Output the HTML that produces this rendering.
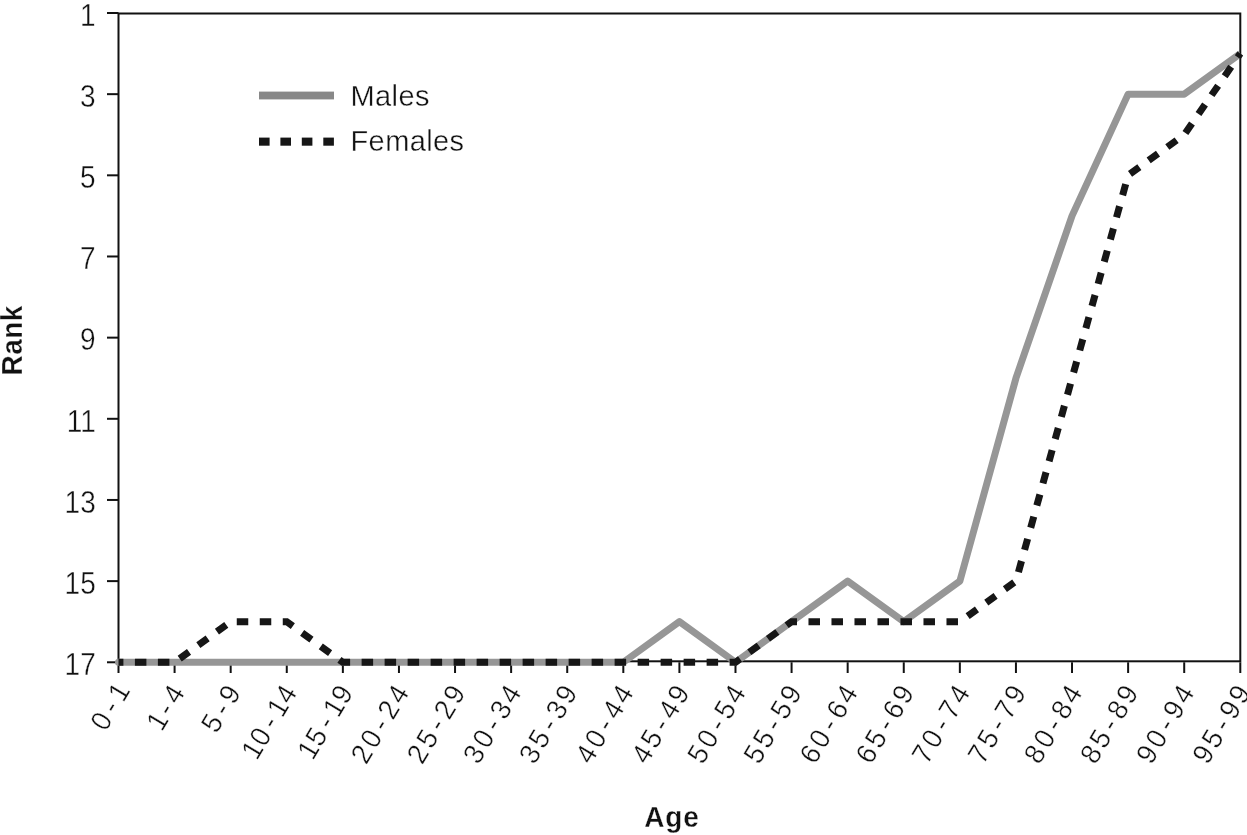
<!DOCTYPE html>
<html><head><meta charset="utf-8"><style>
html,body{margin:0;padding:0;background:#fff;}
svg{display:block;}
text{font-family:"Liberation Sans",sans-serif;fill:#111;stroke:#fff;stroke-width:0.35px;}
svg{will-change:transform;}
text.b{stroke-width:0.3px;}
</style></head><body>
<svg width="1247" height="835" viewBox="0 0 1247 835">
<rect width="1247" height="835" fill="#fff"/>

<rect x="118.50" y="13.5" width="1121.80" height="647.80" fill="none" stroke="#111" stroke-width="2"/>
<line x1="107" y1="13.00" x2="118.50" y2="13.00" stroke="#111" stroke-width="2"/>
<text transform="translate(95.7,25.70) scale(1,1.1)" font-size="28" text-anchor="end">1</text>
<line x1="107" y1="94.16" x2="118.50" y2="94.16" stroke="#111" stroke-width="2"/>
<text transform="translate(95.7,106.86) scale(1,1.1)" font-size="28" text-anchor="end">3</text>
<line x1="107" y1="175.32" x2="118.50" y2="175.32" stroke="#111" stroke-width="2"/>
<text transform="translate(95.7,188.02) scale(1,1.1)" font-size="28" text-anchor="end">5</text>
<line x1="107" y1="256.48" x2="118.50" y2="256.48" stroke="#111" stroke-width="2"/>
<text transform="translate(95.7,269.18) scale(1,1.1)" font-size="28" text-anchor="end">7</text>
<line x1="107" y1="337.64" x2="118.50" y2="337.64" stroke="#111" stroke-width="2"/>
<text transform="translate(95.7,350.34) scale(1,1.1)" font-size="28" text-anchor="end">9</text>
<line x1="107" y1="418.80" x2="118.50" y2="418.80" stroke="#111" stroke-width="2"/>
<text transform="translate(95.7,431.50) scale(1,1.1)" font-size="28" text-anchor="end">11</text>
<line x1="107" y1="499.96" x2="118.50" y2="499.96" stroke="#111" stroke-width="2"/>
<text transform="translate(95.7,512.66) scale(1,1.1)" font-size="28" text-anchor="end">13</text>
<line x1="107" y1="581.12" x2="118.50" y2="581.12" stroke="#111" stroke-width="2"/>
<text transform="translate(95.7,593.82) scale(1,1.1)" font-size="28" text-anchor="end">15</text>
<line x1="107" y1="662.28" x2="118.50" y2="662.28" stroke="#111" stroke-width="2"/>
<text transform="translate(95.7,674.98) scale(1,1.1)" font-size="28" text-anchor="end">17</text>
<line x1="118.50" y1="662.28" x2="118.50" y2="673" stroke="#111" stroke-width="2"/>
<text transform="translate(122.40,684.75) rotate(-59) scale(1,1.05)" font-size="27" text-anchor="end" dominant-baseline="central"><tspan letter-spacing="5">0</tspan><tspan letter-spacing="5">-</tspan><tspan letter-spacing="0.5">1</tspan></text>
<line x1="174.59" y1="662.28" x2="174.59" y2="673" stroke="#111" stroke-width="2"/>
<text transform="translate(178.49,684.75) rotate(-59) scale(1,1.05)" font-size="27" text-anchor="end" dominant-baseline="central"><tspan letter-spacing="2.5">1</tspan><tspan letter-spacing="5">-</tspan><tspan letter-spacing="3">4</tspan></text>
<line x1="230.68" y1="662.28" x2="230.68" y2="673" stroke="#111" stroke-width="2"/>
<text transform="translate(234.58,684.75) rotate(-59) scale(1,1.05)" font-size="27" text-anchor="end" dominant-baseline="central"><tspan letter-spacing="5">5</tspan><tspan letter-spacing="5">-</tspan><tspan letter-spacing="3">9</tspan></text>
<line x1="286.77" y1="662.28" x2="286.77" y2="673" stroke="#111" stroke-width="2"/>
<text transform="translate(290.67,684.75) rotate(-59) scale(1,1.05)" font-size="27" text-anchor="end" dominant-baseline="central"><tspan letter-spacing="0.5">1</tspan><tspan letter-spacing="5">0</tspan><tspan letter-spacing="5">-</tspan><tspan letter-spacing="0.5">1</tspan><tspan letter-spacing="3">4</tspan></text>
<line x1="342.86" y1="662.28" x2="342.86" y2="673" stroke="#111" stroke-width="2"/>
<text transform="translate(346.76,684.75) rotate(-59) scale(1,1.05)" font-size="27" text-anchor="end" dominant-baseline="central"><tspan letter-spacing="0.5">1</tspan><tspan letter-spacing="5">5</tspan><tspan letter-spacing="5">-</tspan><tspan letter-spacing="0.5">1</tspan><tspan letter-spacing="3">9</tspan></text>
<line x1="398.95" y1="662.28" x2="398.95" y2="673" stroke="#111" stroke-width="2"/>
<text transform="translate(402.85,684.75) rotate(-59) scale(1,1.05)" font-size="27" text-anchor="end" dominant-baseline="central"><tspan letter-spacing="3">2</tspan><tspan letter-spacing="5">0</tspan><tspan letter-spacing="5">-</tspan><tspan letter-spacing="3">2</tspan><tspan letter-spacing="3">4</tspan></text>
<line x1="455.04" y1="662.28" x2="455.04" y2="673" stroke="#111" stroke-width="2"/>
<text transform="translate(458.94,684.75) rotate(-59) scale(1,1.05)" font-size="27" text-anchor="end" dominant-baseline="central"><tspan letter-spacing="3">2</tspan><tspan letter-spacing="5">5</tspan><tspan letter-spacing="5">-</tspan><tspan letter-spacing="3">2</tspan><tspan letter-spacing="3">9</tspan></text>
<line x1="511.13" y1="662.28" x2="511.13" y2="673" stroke="#111" stroke-width="2"/>
<text transform="translate(515.03,684.75) rotate(-59) scale(1,1.05)" font-size="27" text-anchor="end" dominant-baseline="central"><tspan letter-spacing="3">3</tspan><tspan letter-spacing="5">0</tspan><tspan letter-spacing="5">-</tspan><tspan letter-spacing="3">3</tspan><tspan letter-spacing="3">4</tspan></text>
<line x1="567.22" y1="662.28" x2="567.22" y2="673" stroke="#111" stroke-width="2"/>
<text transform="translate(571.12,684.75) rotate(-59) scale(1,1.05)" font-size="27" text-anchor="end" dominant-baseline="central"><tspan letter-spacing="3">3</tspan><tspan letter-spacing="5">5</tspan><tspan letter-spacing="5">-</tspan><tspan letter-spacing="3">3</tspan><tspan letter-spacing="3">9</tspan></text>
<line x1="623.31" y1="662.28" x2="623.31" y2="673" stroke="#111" stroke-width="2"/>
<text transform="translate(627.21,684.75) rotate(-59) scale(1,1.05)" font-size="27" text-anchor="end" dominant-baseline="central"><tspan letter-spacing="3">4</tspan><tspan letter-spacing="5">0</tspan><tspan letter-spacing="5">-</tspan><tspan letter-spacing="3">4</tspan><tspan letter-spacing="3">4</tspan></text>
<line x1="679.40" y1="662.28" x2="679.40" y2="673" stroke="#111" stroke-width="2"/>
<text transform="translate(683.30,684.75) rotate(-59) scale(1,1.05)" font-size="27" text-anchor="end" dominant-baseline="central"><tspan letter-spacing="3">4</tspan><tspan letter-spacing="5">5</tspan><tspan letter-spacing="5">-</tspan><tspan letter-spacing="3">4</tspan><tspan letter-spacing="3">9</tspan></text>
<line x1="735.49" y1="662.28" x2="735.49" y2="673" stroke="#111" stroke-width="2"/>
<text transform="translate(739.39,684.75) rotate(-59) scale(1,1.05)" font-size="27" text-anchor="end" dominant-baseline="central"><tspan letter-spacing="3">5</tspan><tspan letter-spacing="5">0</tspan><tspan letter-spacing="5">-</tspan><tspan letter-spacing="3">5</tspan><tspan letter-spacing="3">4</tspan></text>
<line x1="791.58" y1="662.28" x2="791.58" y2="673" stroke="#111" stroke-width="2"/>
<text transform="translate(795.48,684.75) rotate(-59) scale(1,1.05)" font-size="27" text-anchor="end" dominant-baseline="central"><tspan letter-spacing="3">5</tspan><tspan letter-spacing="5">5</tspan><tspan letter-spacing="5">-</tspan><tspan letter-spacing="3">5</tspan><tspan letter-spacing="3">9</tspan></text>
<line x1="847.67" y1="662.28" x2="847.67" y2="673" stroke="#111" stroke-width="2"/>
<text transform="translate(851.57,684.75) rotate(-59) scale(1,1.05)" font-size="27" text-anchor="end" dominant-baseline="central"><tspan letter-spacing="3">6</tspan><tspan letter-spacing="5">0</tspan><tspan letter-spacing="5">-</tspan><tspan letter-spacing="3">6</tspan><tspan letter-spacing="3">4</tspan></text>
<line x1="903.76" y1="662.28" x2="903.76" y2="673" stroke="#111" stroke-width="2"/>
<text transform="translate(907.66,684.75) rotate(-59) scale(1,1.05)" font-size="27" text-anchor="end" dominant-baseline="central"><tspan letter-spacing="3">6</tspan><tspan letter-spacing="5">5</tspan><tspan letter-spacing="5">-</tspan><tspan letter-spacing="3">6</tspan><tspan letter-spacing="3">9</tspan></text>
<line x1="959.85" y1="662.28" x2="959.85" y2="673" stroke="#111" stroke-width="2"/>
<text transform="translate(963.75,684.75) rotate(-59) scale(1,1.05)" font-size="27" text-anchor="end" dominant-baseline="central"><tspan letter-spacing="3">7</tspan><tspan letter-spacing="5">0</tspan><tspan letter-spacing="5">-</tspan><tspan letter-spacing="3">7</tspan><tspan letter-spacing="3">4</tspan></text>
<line x1="1015.94" y1="662.28" x2="1015.94" y2="673" stroke="#111" stroke-width="2"/>
<text transform="translate(1019.84,684.75) rotate(-59) scale(1,1.05)" font-size="27" text-anchor="end" dominant-baseline="central"><tspan letter-spacing="3">7</tspan><tspan letter-spacing="5">5</tspan><tspan letter-spacing="5">-</tspan><tspan letter-spacing="3">7</tspan><tspan letter-spacing="3">9</tspan></text>
<line x1="1072.03" y1="662.28" x2="1072.03" y2="673" stroke="#111" stroke-width="2"/>
<text transform="translate(1075.93,684.75) rotate(-59) scale(1,1.05)" font-size="27" text-anchor="end" dominant-baseline="central"><tspan letter-spacing="3">8</tspan><tspan letter-spacing="5">0</tspan><tspan letter-spacing="5">-</tspan><tspan letter-spacing="3">8</tspan><tspan letter-spacing="3">4</tspan></text>
<line x1="1128.12" y1="662.28" x2="1128.12" y2="673" stroke="#111" stroke-width="2"/>
<text transform="translate(1132.02,684.75) rotate(-59) scale(1,1.05)" font-size="27" text-anchor="end" dominant-baseline="central"><tspan letter-spacing="3">8</tspan><tspan letter-spacing="5">5</tspan><tspan letter-spacing="5">-</tspan><tspan letter-spacing="3">8</tspan><tspan letter-spacing="3">9</tspan></text>
<line x1="1184.21" y1="662.28" x2="1184.21" y2="673" stroke="#111" stroke-width="2"/>
<text transform="translate(1188.11,684.75) rotate(-59) scale(1,1.05)" font-size="27" text-anchor="end" dominant-baseline="central"><tspan letter-spacing="3">9</tspan><tspan letter-spacing="5">0</tspan><tspan letter-spacing="5">-</tspan><tspan letter-spacing="3">9</tspan><tspan letter-spacing="3">4</tspan></text>
<line x1="1240.30" y1="662.28" x2="1240.30" y2="673" stroke="#111" stroke-width="2"/>
<text transform="translate(1244.20,684.75) rotate(-59) scale(1,1.05)" font-size="27" text-anchor="end" dominant-baseline="central"><tspan letter-spacing="3">9</tspan><tspan letter-spacing="5">5</tspan><tspan letter-spacing="5">-</tspan><tspan letter-spacing="3">9</tspan><tspan letter-spacing="3">9</tspan></text>
<polyline points="118.50,662.28 174.59,662.28 230.68,662.28 286.77,662.28 342.86,662.28 398.95,662.28 455.04,662.28 511.13,662.28 567.22,662.28 623.31,662.28 679.40,621.70 735.49,662.28 791.58,621.70 847.67,581.12 903.76,621.70 959.85,581.12 1015.94,378.22 1072.03,215.90 1128.12,94.16 1184.21,94.16 1240.30,53.58" fill="none" stroke="#969696" stroke-width="7" stroke-linejoin="round" stroke-linecap="butt"/>
<circle cx="118.50" cy="662.28" r="3.5" fill="#969696"/>
<polyline points="118.50,662.28 174.59,662.28 230.68,621.70 286.77,621.70 342.86,662.28 398.95,662.28 455.04,662.28 511.13,662.28 567.22,662.28 623.31,662.28 679.40,662.28 735.49,662.28 791.58,621.70 847.67,621.70 903.76,621.70 959.85,621.70 1015.94,581.12 1072.03,378.22 1128.12,175.32 1184.21,134.74 1240.30,53.58" fill="none" stroke="#161616" stroke-width="7" stroke-dasharray="11.5 11.5" stroke-dashoffset="6.6" stroke-linejoin="miter"/>
<rect x="259" y="91.6" width="75" height="7.8" fill="#888"/>
<rect x="259" y="137.6" width="10.6" height="8.1" fill="#161616"/>
<rect x="280.4" y="137.6" width="10.6" height="8.1" fill="#161616"/>
<rect x="301.8" y="137.6" width="10.6" height="8.1" fill="#161616"/>
<rect x="323.3" y="137.6" width="10.6" height="8.1" fill="#161616"/>
<text x="350.5" y="105.5" font-size="29" letter-spacing="0.4">Males</text>
<text x="350.5" y="150.9" font-size="29" letter-spacing="0.4">Females</text>
<text transform="translate(672,827.3) scale(1,1.08)" font-size="28" font-weight="bold" class="b" text-anchor="middle" letter-spacing="0.8">Age</text>
<text transform="translate(22.1,340.3) rotate(-90) scale(1,1.08)" font-size="28" font-weight="bold" class="b" text-anchor="middle" letter-spacing="0.5">Rank</text>
</svg>
</body></html>
